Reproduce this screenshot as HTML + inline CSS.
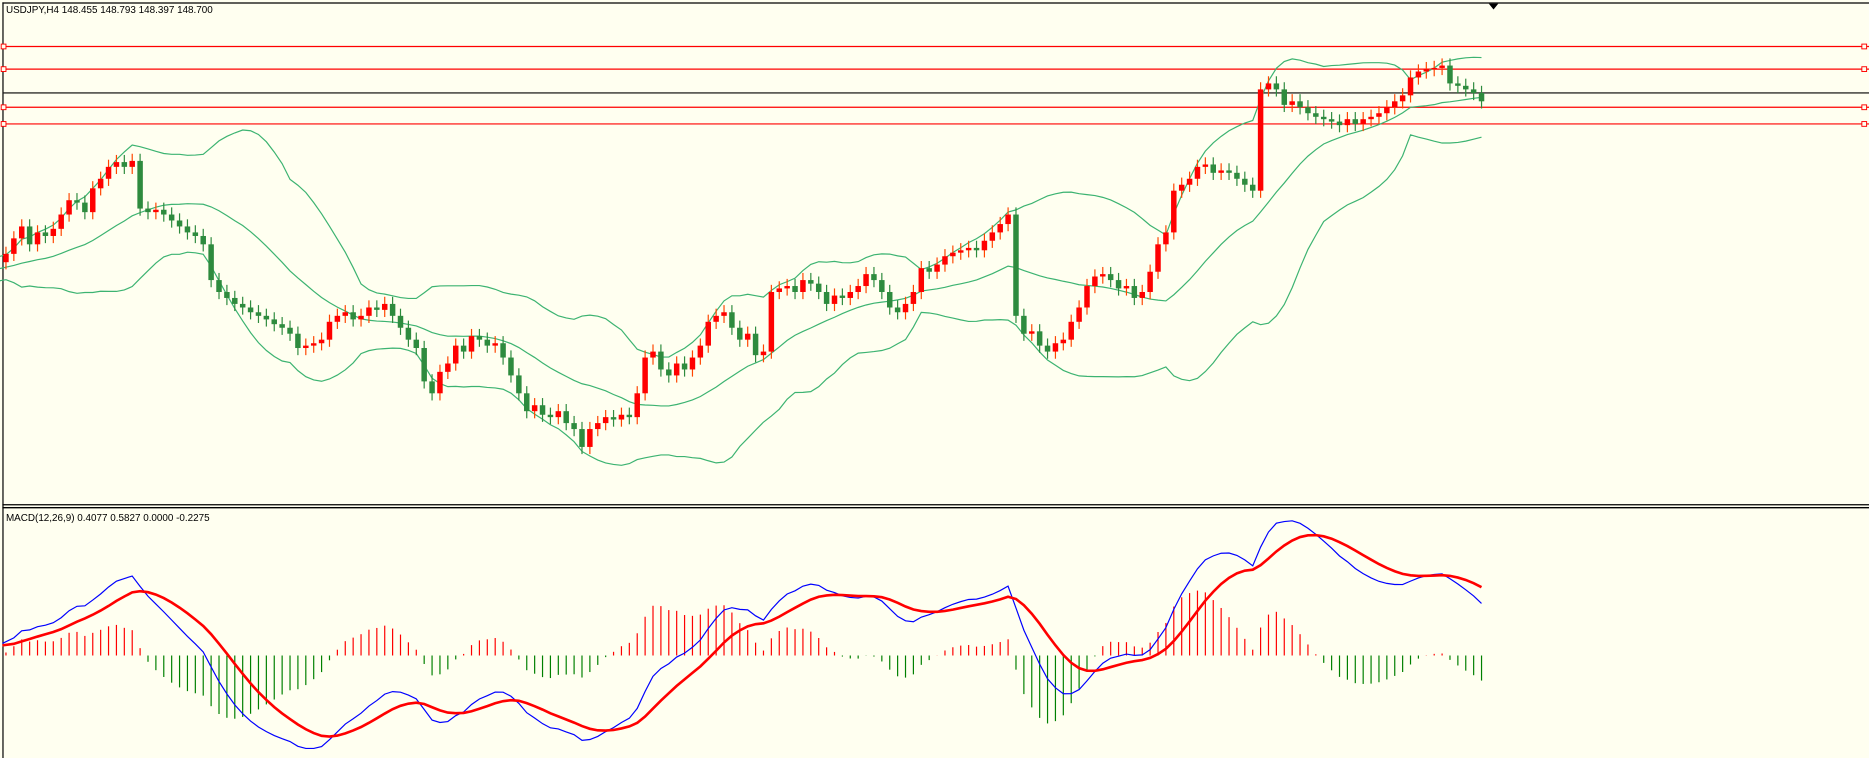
<!DOCTYPE html>
<html><head><meta charset="utf-8"><style>
html,body{margin:0;padding:0;background:#fffff0;overflow:hidden}
svg{display:block;font-family:"Liberation Sans",sans-serif}
</style></head><body>
<svg id="chart" width="1869" height="758" viewBox="0 0 1568 636" preserveAspectRatio="none" xmlns="http://www.w3.org/2000/svg">
<rect x="0" y="0" width="1568" height="636" fill="#fffff0"/>
<g id="frame">
<line x1="2" y1="2.5" x2="1568" y2="2.5" stroke="#000" stroke-width="1"/>
<line x1="2.5" y1="2" x2="2.5" y2="636" stroke="#000" stroke-width="1"/>
<line x1="2" y1="423.5" x2="1568" y2="423.5" stroke="#000" stroke-width="1"/>
<line x1="2" y1="426" x2="1568" y2="426" stroke="#000" stroke-width="1.2"/>
<polygon points="1249,3 1257,3 1253,8" fill="#000"/>
</g>
<g id="levels"></g>
<g id="bands"></g>
<g id="candles"></g>
<g id="macd"></g>
<text x="5" y="11" font-size="8.3" fill="#000">USDJPY,H4  148.455 148.793 148.397 148.700</text>
<text x="5" y="437" font-size="8.3" fill="#000">MACD(12,26,9) 0.4077 0.5827 0.0000 -0.2275</text>
</svg>
<script>
// ---- data ----
const preCloses = [147.18,147.23,147.25,147.21,147.28,147.33,147.27,147.23,147.29,147.35,147.31,147.25,147.21,147.27,147.33,147.38,147.31,147.25,147.28,147.33];
const closes = [147.40,147.53,147.63,147.48,147.58,147.55,147.61,147.73,147.85,147.83,147.75,147.95,148.03,148.13,148.17,148.13,148.18,
147.78,147.75,147.77,147.73,147.68,147.63,147.58,147.55,147.48,147.18,147.08,147.03,146.98,146.95,146.91,146.88,146.85,146.81,146.78,146.73,146.61,146.63,146.65,146.68,146.83,146.88,146.91,146.85,146.88,146.95,146.93,146.98,146.88,146.78,146.68,146.61,146.33,146.23,146.41,146.48,146.63,146.58,146.71,146.68,146.63,146.65,146.53,146.38,146.23,146.08,146.13,146.05,146.03,146.08,145.98,145.93,145.78,145.93,145.98,146.03,146.01,146.05,146.03,146.23,146.53,146.58,146.43,146.38,146.48,146.43,146.53,146.63,146.83,146.88,146.91,146.78,146.68,146.73,146.55,146.58,147.08,147.11,147.13,147.08,147.18,147.15,147.08,146.98,147.05,147.03,147.08,147.13,147.23,147.18,147.08,146.95,146.91,146.98,147.08,147.28,147.25,147.31,147.38,147.41,147.43,147.45,147.43,147.51,147.58,147.65,147.73,146.88,146.73,146.75,146.63,146.58,146.65,146.68,146.83,146.95,147.13,147.21,147.23,147.18,147.11,147.13,147.03,147.08,147.25,147.48,147.58,147.93,147.98,148.03,148.13,148.15,148.08,148.10,148.08,148.03,147.98,147.93,148.78,148.83,148.78,148.65,148.68,148.63,148.58,148.55,148.53,148.51,148.48,148.53,148.49,148.53,148.55,148.58,148.63,148.68,148.73,148.88,148.93,148.95,148.96,148.98,148.83,148.81,148.78,148.75,148.68];
const levelPrices = [149.14,148.95,148.63,148.49];
const currentLevel = 148.75;

// ---- scales ----
const N = closes.length;
const all = preCloses.concat(closes);
const P = preCloses.length;
const xOf = i => 5 + (i - P) * 6.62;
const yOf = p => (149.53 - p) * 100;
const NS = 'http://www.w3.org/2000/svg';
function mk(tag, attrs, parent){const e=document.createElementNS(NS,tag);for(const k in attrs)e.setAttribute(k,attrs[k]);parent.appendChild(e);return e;}

// ---- levels ----
const gl = document.getElementById('levels');
levelPrices.forEach((p,k)=>{
  const y = yOf(p);
  const l = mk('line',{x1:3,x2:1568,y1:y,y2:y,stroke:'#ff0000','stroke-width':1},gl);
  
  
  const a = mk('rect',{x:1,y:y-2,width:4,height:4,fill:'#fffff0',stroke:'#ff0000','stroke-width':0.8},gl);
  
  
  const b = mk('rect',{x:1562,y:y-2,width:4,height:4,fill:'#fffff0',stroke:'#ff0000','stroke-width':0.8},gl);
  
  
});
{
  const y = yOf(currentLevel);
  const l = mk('line',{x1:3,x2:1568,y1:y,y2:y,stroke:'#000','stroke-width':1},gl);
  
  
}

// ---- bollinger bands (20,2) ----
const gb = document.getElementById('bands');
const up=[],mid=[],lo=[];
for(let i=0;i<all.length;i++){
  const s=Math.max(0,i-19), w=all.slice(s,i+1);
  const m=w.reduce((a,b)=>a+b,0)/w.length;
  const sd=Math.sqrt(w.reduce((a,b)=>a+(b-m)*(b-m),0)/w.length);
  mid.push(m); up.push(m+2*sd); lo.push(m-2*sd);
}
[['bollinger-upper',up],['bollinger-middle',mid],['bollinger-lower',lo]].forEach(([n,arr])=>{
  let d='';
  for(let i=P-4;i<all.length;i++){d+=(i===P-4?'M':'L')+Math.max(0,xOf(i)).toFixed(1)+','+yOf(arr[i]).toFixed(1);}
  const pth=mk('path',{d:d,fill:'none',stroke:'#3cb371','stroke-width':1},gb);
  
  
});

// ---- candles ----
const gc = document.getElementById('candles');
for(let k=0;k<N;k++){
  const i=P+k, o=all[i-1], c=all[i];
  const bull=c>=o, x=xOf(i);
  const hi=Math.max(o,c)+0.06, lw=Math.min(o,c)-0.06;
  const col=bull?'#ff0000':'#2e8b3e', wc=bull?'#ff4500':'#2e8b3e';
  const g=mk('g',{},gc);
  
  
  mk('line',{x1:x,x2:x,y1:yOf(hi),y2:yOf(lw),stroke:wc,'stroke-width':1},g);
  const yt=yOf(Math.max(o,c)), yb=yOf(Math.min(o,c));
  mk('rect',{x:x-2.3,y:yt,width:4.6,height:Math.max(1.2,yb-yt),fill:col},g);
}

// ---- MACD (12,26,9) ----
function ema(arr,n){const a=2/(n+1);const out=[arr[0]];for(let i=1;i<arr.length;i++)out.push(arr[i]*a+out[i-1]*(1-a));return out;}
const e12=ema(all,12), e26=ema(all,26);
const macdV=all.map((v,i)=>e12[i]-e26[i]);
const sigV=ema(macdV,9);
const histV=macdV.map((v,i)=>v-sigV[i]);
let mn=Infinity,mx=-Infinity,hm=0;
for(let i=P;i<all.length;i++){mn=Math.min(mn,macdV[i],sigV[i]);mx=Math.max(mx,macdV[i],sigV[i]);hm=Math.max(hm,Math.abs(histV[i]));}
const yLine=v=>628-(v-mn)/(mx-mn)*191;
const yHist=v=>550-v/hm*57;
const gm=document.getElementById('macd');
for(let i=P;i<all.length;i++){
  const x=xOf(i), v=histV[i];
  const b=mk('line',{x1:x,x2:x,y1:550,y2:yHist(v),stroke:v>=0?'#ff0000':'#008000','stroke-width':1},gm);
  
  
}
[['macd-line',macdV,'#0000ff',1],['signal-line',sigV,'#ff0000',2.2]].forEach(([n,arr,c,w])=>{
  let d='';
  for(let i=P;i<all.length;i++){d+=(i===P?'M':'L')+(i===P?2:xOf(i)).toFixed(1)+','+yLine(arr[i]).toFixed(1);}
  const pth=mk('path',{d:d,fill:'none',stroke:c,'stroke-width':w},gm);
  
  
});
</script>
</body></html>
